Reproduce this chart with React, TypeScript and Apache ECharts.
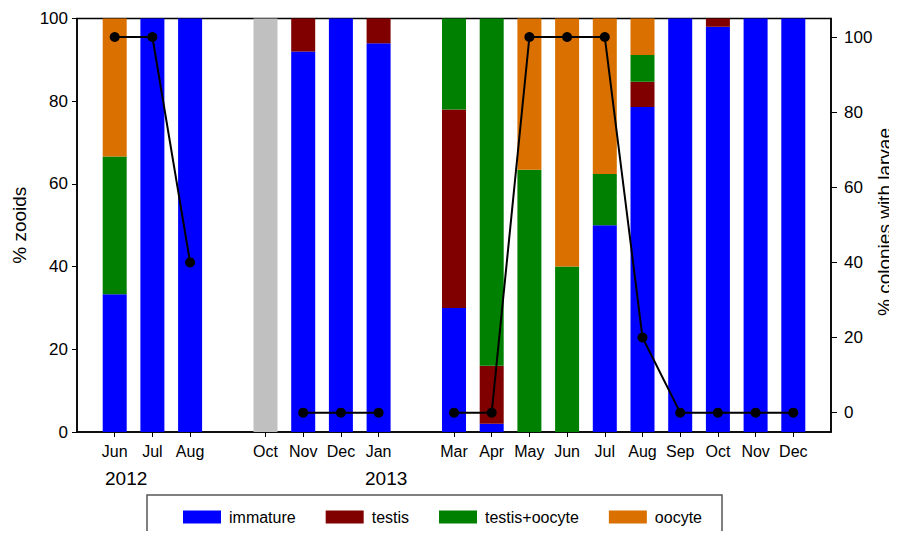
import React, { useEffect, useRef } from "react";
import * as echarts from "echarts";

// Sampling months (blank entries are gaps on the time axis)
const months = [
  "", "Jun", "Jul", "Aug", "", "Oct", "Nov", "Dec", "Jan", "",
  "Mar", "Apr", "May", "Jun", "Jul", "Aug", "Sep", "Oct", "Nov", "Dec", "",
];

// % zooids per reproductive stage
const immature = [null, 33.3, 100, 100, null, null, 92, 100, 94, null, 30, 2, null, null, 50, 78.6, 100, 98, 100, 100, null];
const testis = [null, null, null, null, null, null, 8, null, 6, null, 48, 14, null, null, null, 6.1, null, 2, null, null, null];
const testisOocyte = [null, 33.3, null, null, null, null, null, null, null, null, 22, 84, 63.4, 40, 12.4, 6.5, null, null, null, null, null];
const oocyte = [null, 33.4, null, null, null, null, null, null, null, null, null, null, 36.6, 60, 37.6, 8.8, null, null, null, null, null];
// month without stage data
const noData = [null, null, null, null, null, 100, null, null, null, null, null, null, null, null, null, null, null, null, null, null, null];

// % colonies with larvae
const larvae = [null, 100, 100, 40, null, null, 0, 0, 0, null, 0, 0, 100, 100, 100, 20, 0, 0, 0, 0, null];

const years = ["2012", "2013"];
const leftTicks = [0, 20, 40, 60, 80, 100];
const rightTicks = [0, 20, 40, 60, 80, 100];
const rightTitle = "% colonies with larvae";

const FONT = "Liberation Sans, Arial, Helvetica, sans-serif";

export default function App() {
  const ref = useRef<HTMLDivElement>(null);

  useEffect(() => {
    if (!ref.current) return;
    const chart = echarts.init(ref.current, null, { renderer: "svg" });

    const barBase = {
      type: "bar",
      stack: "stage",
      barWidth: 24,
      xAxisIndex: 0,
      yAxisIndex: 0,
    };

    chart.setOption({
      animation: false,
      textStyle: { fontFamily: FONT, color: "#000" },
      grid: {
        left: 77,
        right: 66,
        top: 18.5,
        bottom: 107,
        outerBoundsMode: "none",
        containLabel: false,
        show: true,
        borderColor: "#000",
        borderWidth: 1.5,
        backgroundColor: "transparent",
      },
      legend: {
        data: ["immature", "testis", "testis+oocyte", "oocyte"],
        left: 183,
        top: 509,
        padding: 0,
        itemWidth: 38,
        itemHeight: 13,
        itemGap: 30,
        icon: "rect",
        textStyle: { fontFamily: FONT, fontSize: 16, color: "#000", padding: [0, 0, 0, 3] },
      },
      xAxis: {
        type: "category",
        data: months,
        boundaryGap: false,
        axisLine: { lineStyle: { color: "#000", width: 1.5 } },
        axisTick: {
          length: 5,
          lineStyle: { color: "#000", width: 1 },
          interval: (idx: number, val: string) => val !== "",
        },
        axisLabel: {
          interval: 0,
          margin: 11,
          fontSize: 16,
          fontFamily: FONT,
          color: "#000",
        },
        splitLine: { show: false },
      },
      yAxis: [
        {
          type: "value",
          min: 0,
          max: 100,
          interval: 20,
          name: "% zooids",
          nameLocation: "middle",
          nameRotate: 90,
          nameGap: 33,
          nameTextStyle: { fontSize: 19, fontFamily: FONT, color: "#000" },
          axisLine: { show: true, lineStyle: { color: "#000", width: 1.5 } },
          axisTick: { show: true, length: 5, lineStyle: { color: "#000" } },
          axisLabel: {
            fontSize: 17,
            fontFamily: FONT,
            color: "#000",
            margin: 9,
            customValues: leftTicks,
          },
          splitLine: { show: false },
        },
        {
          type: "value",
          position: "right",
          min: -5.15,
          max: 104.93,
          axisLine: { show: true, lineStyle: { color: "#000", width: 1.5 } },
          axisTick: {
            show: true,
            length: 6,
            lineStyle: { color: "#000" },
            customValues: rightTicks,
          },
          axisLabel: {
            fontSize: 17,
            fontFamily: FONT,
            color: "#000",
            margin: 13,
            customValues: rightTicks,
          },
          splitLine: { show: false },
        },
      ],
      series: [
        { ...barBase, name: "immature", data: immature, itemStyle: { color: "#0000FF" } },
        { ...barBase, name: "testis", data: testis, itemStyle: { color: "#800000" } },
        { ...barBase, name: "testis+oocyte", data: testisOocyte, itemStyle: { color: "#008000" } },
        { ...barBase, name: "oocyte", data: oocyte, itemStyle: { color: "#D97000" } },
        { ...barBase, name: "no data", data: noData, itemStyle: { color: "#C0C0C0" } },
        {
          type: "line",
          name: "larvae",
          yAxisIndex: 1,
          data: larvae,
          connectNulls: false,
          symbol: "circle",
          symbolSize: 10,
          lineStyle: { color: "#000", width: 2 },
          itemStyle: { color: "#000" },
          z: 5,
        },
      ],
      graphic: [
        {
          type: "text",
          x: 884,
          y: 222,
          rotation: Math.PI / 2,
          style: {
            text: rightTitle,
            fontSize: 19,
            fontFamily: FONT,
            fill: "#000",
            textAlign: "center",
            textVerticalAlign: "middle",
          },
        },
        {
          type: "text",
          left: 105,
          top: 469,
          style: { text: years[0], fontSize: 19, fontFamily: FONT, fill: "#000" },
        },
        {
          type: "text",
          left: 365,
          top: 469,
          style: { text: years[1], fontSize: 19, fontFamily: FONT, fill: "#000" },
        },
        {
          type: "rect",
          shape: { x: 147, y: 495, width: 575, height: 60 },
          style: { fill: "none", stroke: "#555", lineWidth: 1.5 },
          z: -1,
        },
      ],
    });

    return () => chart.dispose();
  }, []);

  return <div ref={ref} style={{ width: 897, height: 539, margin: -8 }} />;
}
